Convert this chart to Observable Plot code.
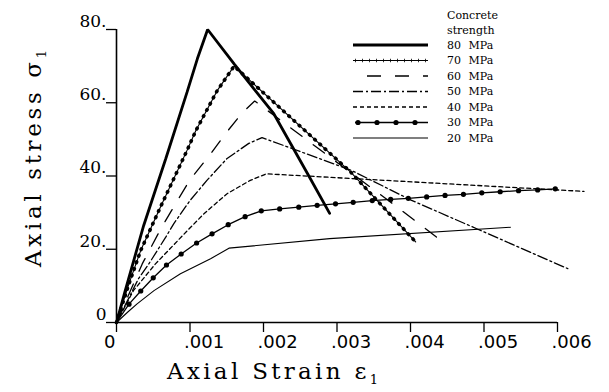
<!DOCTYPE html>
<html>
<head>
<meta charset="utf-8">
<script src="https://cdn.jsdelivr.net/npm/d3@7"></script>
<script src="https://cdn.jsdelivr.net/npm/@observablehq/plot@0.6"></script>
<style>
  html, body { margin: 0; padding: 0; background: #fff; }
</style>
</head>
<body>
<div id="chart"></div>
<script>
// ---- tick values and labels ----
const xTicks = [0, 0.001, 0.002, 0.003, 0.004, 0.005, 0.006];
const xTickLabels = ["0", ".001", ".002", ".003", ".004", ".005", ".006"];
const yTicks = [0, 20, 40, 60, 80];
const yTickLabels = ["0", "20.", "40.", "60.", "80."];

// ---- legend ----
const legendTitle = ["Concrete", "strength"];
const seriesNames = ["80 MPa", "70 MPa", "60 MPa", "50 MPa", "40 MPa", "30 MPa", "20 MPa"];

// ---- series: [axial strain, axial stress (MPa)] ----
const s80 = [[0,0],[0.000113,8.3],[0.00037,26.5],[0.00067,44.7],[0.00096,62.9],[0.0011,72],[0.00124,80],
             [0.0016,70.6],[0.00214,57],[0.0026,40.6],[0.0029,29.8]];
const s70 = [[0,0],[0.00017,10.6],[0.00033,19.7],[0.00045,25],[0.0006,31.6],[0.00096,47],
             [0.00108,52.4],[0.00137,63.3],[0.0016,70],[0.00319,41],[0.00325,39.7],[0.00407,22]];
const s60 = [[0,0],[0.00035,16],[0.0006,25.5],[0.00082,33],[0.001,39],[0.00128,46],
             [0.0015,52],[0.0017,57],[0.00188,60.5],[0.0027,48.2],[0.0037,33.3],[0.00444,22]];
const s50 = [[0,0],[0.0003,12],[0.00044,16],[0.00067,23.3],[0.00078,27],[0.001,33.3],
             [0.00123,38.8],[0.0015,44.7],[0.0018,48.9],[0.00198,50.5],[0.0032,41.5],
             [0.004,33.5],[0.0049,25.6],[0.00614,14.7]];
const s40 = [[0,0],[0.00023,8.7],[0.00053,16],[0.00096,25],[0.00119,29.7],[0.0015,35.1],
             [0.00182,38.8],[0.00204,40.6],[0.00636,35.8]];
const s30 = [[0,0],[0.00017,5],[0.00033,8.6],[0.0005,12.2],[0.00068,15.7],[0.00088,18.7],
             [0.00109,21.7],[0.0013,24.2],[0.00152,26.7],[0.00175,28.9],[0.00197,30.5],
             [0.00222,31],[0.00248,31.5],[0.00273,32],[0.00298,32.4],[0.00322,32.8],
             [0.00348,33.3],[0.00373,33.6],[0.00397,33.9],[0.00422,34.3],[0.00447,34.7],
             [0.00472,35],[0.00497,35.4],[0.00522,35.7],[0.00547,36],[0.00573,36.2],[0.00597,36.5]];
const s20 = [[0,0],[0.00015,2.8],[0.00028,5.1],[0.00051,8.7],[0.00087,13.3],[0.00128,17.4],
             [0.00153,20.3],[0.0029,22.9],[0.00536,26]];

// ---- styles ----
const thin = 1.3;
const styles = [
  {strokeWidth: 2.8},
  {strokeWidth: 1.1},
  {strokeWidth: thin, strokeDasharray: "14,14"},
  {strokeWidth: thin, strokeDasharray: "10,3,2,3"},
  {strokeWidth: thin, strokeDasharray: "4,3"},
  {strokeWidth: thin},
  {strokeWidth: 1.1}
];
const allSeries = [s80, s70, s60, s50, s40, s30, s20];
const crossStyle = {strokeWidth: 3.6, strokeDasharray: "0.8,6.2"};

const X = d => d[0], Y = d => d[1];
const lineMarks = allSeries.map((s, i) =>
  Plot.line(s, {x: X, y: Y, stroke: "black", fill: "none", strokeLinejoin: "miter", ...styles[i]}));

const chart = Plot.plot({
  width: 609,
  height: 392,
  marginLeft: 116,
  marginRight: 52,
  marginTop: 29,
  marginBottom: 70,
  x: {domain: [0, 0.006]},
  y: {domain: [0, 80]},
  style: {background: "white", color: "black", overflow: "visible"},
  marks: [
    Plot.ruleY([0], {x1: 0, x2: 0.006, stroke: "black", strokeWidth: 1.7}),
    Plot.ruleX([0], {y1: 0, y2: 80, stroke: "black", strokeWidth: 1.6}),
    // x ticks
    Plot.axisX({ticks: xTicks, tickSize: 10, tickFormat: () => "", label: null, strokeWidth: 1.3}),
    // x tick labels
    Plot.axisX({ticks: xTicks.slice(1), tickSize: 0, tickPadding: 13, label: null,
      tickFormat: d => xTickLabels[xTicks.indexOf(d)],
      textAnchor: "start", dx: -6, fontSize: 18, fontFamily: "DejaVu Sans"}),
    Plot.axisX({ticks: [0], tickSize: 0, tickPadding: 13, label: null,
      tickFormat: d => xTickLabels[xTicks.indexOf(d)],
      textAnchor: "end", dx: -1, fontSize: 18, fontFamily: "DejaVu Sans"}),
    // y ticks
    Plot.axisY({ticks: yTicks, tickSize: 10, tickFormat: () => "", label: null, strokeWidth: 1.3}),
    // y tick labels
    Plot.axisY({ticks: yTicks, tickSize: 0, tickPadding: 10, label: null,
      tickFormat: d => yTickLabels[yTicks.indexOf(d)],
      textAnchor: "end", dy: -8, fontSize: 17, fontFamily: "DejaVu Serif"}),
    ...lineMarks,
    // 70 MPa cross markers along the line
    Plot.line(s70, {x: X, y: Y, stroke: "black", ...crossStyle}),
    // 30 MPa dot markers
    Plot.dot(s30.slice(1), {x: X, y: Y, r: 2.6, fill: "black", stroke: "none"})
  ]
});
document.getElementById("chart").appendChild(chart);

// ---- axis titles ----
const svg = d3.select(chart);
const yt = svg.append("text")
  .attr("transform", "translate(41,267) rotate(-90)")
  .attr("text-anchor", "start")
  .attr("font-family", "DejaVu Serif").attr("font-size", 23)
  .attr("textLength", 217).attr("lengthAdjust", "spacing").attr("fill", "black");
yt.append("tspan").text("Axial stress σ");
yt.append("tspan").attr("font-size", 13).attr("dy", 5).text("1");

const xt = svg.append("text")
  .attr("x", 167).attr("y", 379)
  .attr("text-anchor", "start")
  .attr("font-family", "DejaVu Serif").attr("font-size", 23)
  .attr("textLength", 211).attr("lengthAdjust", "spacing").attr("fill", "black");
xt.append("tspan").text("Axial Strain ε");
xt.append("tspan").attr("font-size", 13).attr("dy", 5).text("1");

// ---- legend ----
const lg = svg.append("g").attr("font-family", "DejaVu Serif").attr("font-size", 11)
  .attr("fill", "black").attr("text-anchor", "start");
legendTitle.forEach((t, i) => {
  lg.append("text").attr("x", 447).attr("y", 15 + i * 15).attr("dy", "0.35em").text(t);
});
seriesNames.forEach((name, i) => {
  const yy = 45 + i * 15.5;
  const st = styles[i];
  const x1 = i === 5 ? 355 : 353;
  const ln = lg.append("line").attr("x1", x1).attr("x2", 428).attr("y1", yy).attr("y2", yy)
    .attr("stroke", "black").attr("stroke-width", st.strokeWidth);
  if (st.strokeDasharray) ln.attr("stroke-dasharray", st.strokeDasharray);
  if (i === 2) ln.attr("stroke-dashoffset", 14);
  if (i === 1) {
    lg.append("line").attr("x1", 355).attr("x2", 428).attr("y1", yy).attr("y2", yy)
      .attr("stroke", "black").attr("stroke-width", crossStyle.strokeWidth)
      .attr("stroke-dasharray", crossStyle.strokeDasharray);
  }
  if (i === 5) {
    [358, 377, 396, 415].forEach(cx => lg.append("circle").attr("cx", cx).attr("cy", yy).attr("r", 2.6));
  }
  lg.append("text").attr("x", 447).attr("y", yy).attr("dy", "0.35em")
    .attr("word-spacing", 4).text(name);
});
</script>
</body>
</html>
